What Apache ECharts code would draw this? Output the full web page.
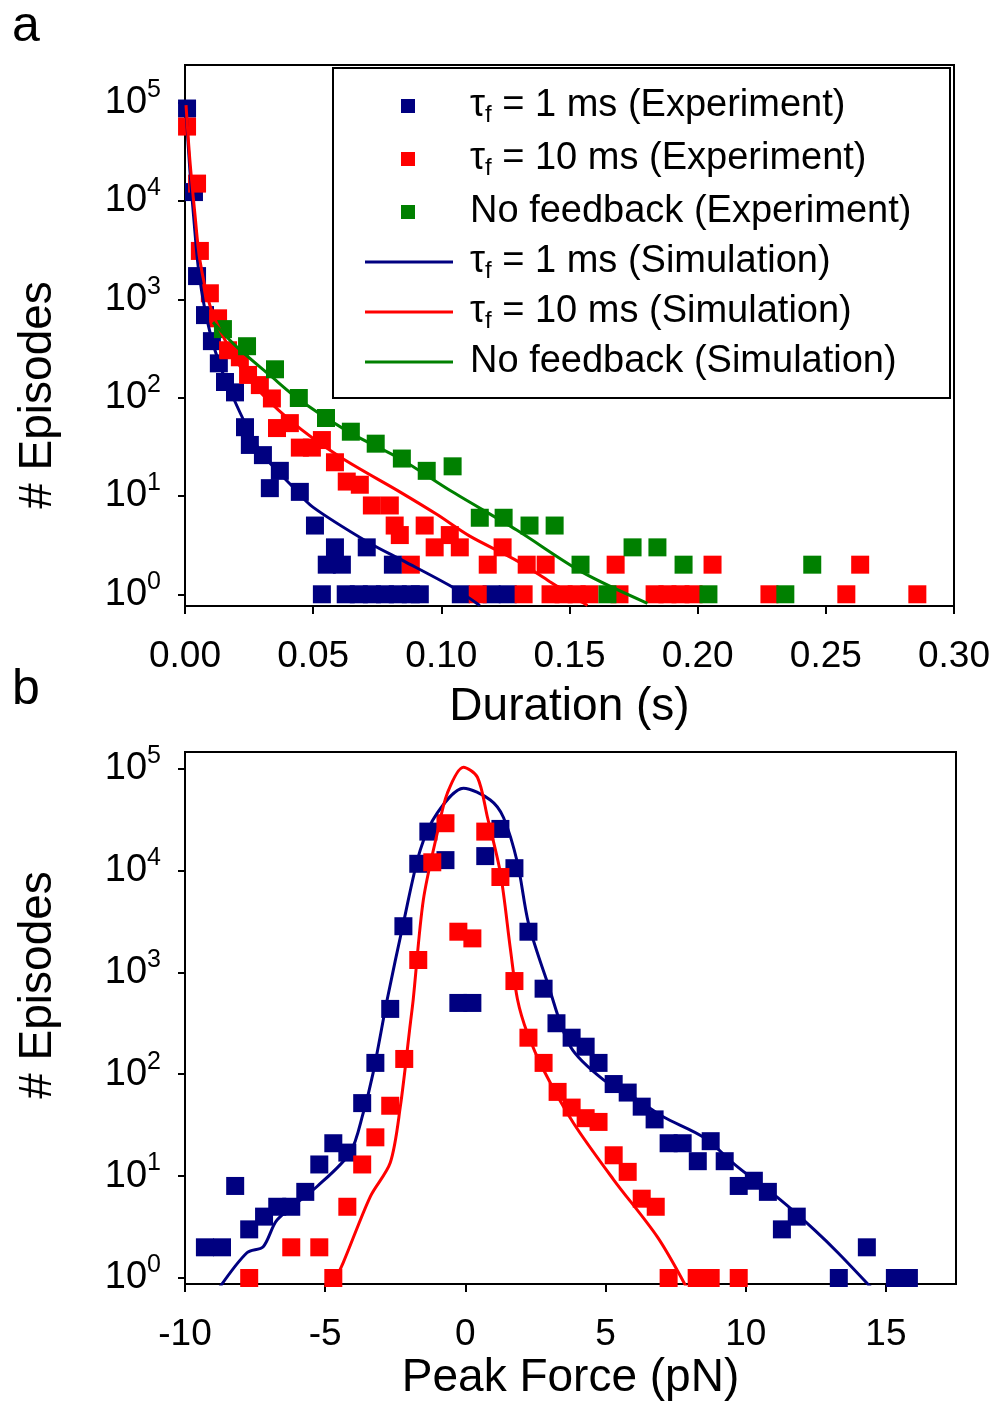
<!DOCTYPE html>
<html><head><meta charset="utf-8">
<script src="https://cdn.jsdelivr.net/npm/echarts@6/dist/echarts.min.js"></script>
<style>html,body{margin:0;padding:0;background:#fff}#c{width:995px;height:1404px}</style>
</head><body><div id="c"></div>
<script>
// ---------- Panel a : duration histograms ----------
const durBlueExp = [[0.0008,87000],[0.0035,12300],[0.0047,1720],[0.0078,690],[0.0105,375],[0.0132,223],[0.0156,144],[0.0195,113],[0.0234,50],[0.0253,33],[0.0304,26],[0.037,18],[0.0331,12],[0.0448,11],[0.0507,5],[0.0585,3],[0.0553,2],[0.0612,2],[0.0709,3],[0.0811,2],[0.0534,1],[0.0627,1],[0.0678,1],[0.0729,1],[0.078,1],[0.083,1],[0.0881,1],[0.0916,1],[0.1076,1],[0.1196,1],[0.1259,1]];
const durRedExp = [[0.0008,57000],[0.0047,15000],[0.0058,3100],[0.0097,1150],[0.0129,640],[0.0168,303],[0.0214,257],[0.0246,170],[0.0292,134],[0.0339,98],[0.0359,49],[0.0409,55],[0.0448,31],[0.0495,31],[0.0534,37],[0.0585,22],[0.0631,14],[0.0682,13],[0.0729,8],[0.0799,8],[0.0818,5],[0.0838,4],[0.0881,2],[0.0935,5],[0.0974,3],[0.1033,4],[0.1072,3],[0.1239,3],[0.1181,2],[0.1333,2],[0.1407,2],[0.1142,1],[0.1321,1],[0.1426,1],[0.1477,1],[0.1528,1],[0.1578,1],[0.168,2],[0.1695,1],[0.1832,1],[0.1882,1],[0.1933,1],[0.1984,1],[0.2058,2],[0.228,1],[0.258,1],[0.2634,2],[0.2857,1]];
const durGreenExp = [[0.0148,497],[0.0242,333],[0.0351,194],[0.0444,99],[0.055,62],[0.0647,45],[0.0744,34],[0.0846,24],[0.0943,18],[0.1044,20],[0.115,6],[0.1243,6],[0.1344,5],[0.1442,5],[0.1543,2],[0.1648,1],[0.1746,3],[0.1843,3],[0.1945,2],[0.2042,1],[0.2342,1],[0.2447,2]];
const durBlueSim = [[0.0004,84000],[0.0019,20600],[0.0035,6300],[0.0051,2200],[0.0078,780],[0.0117,303],[0.0175,119],[0.0292,29],[0.0421,12.3],[0.0499,7.7],[0.0721,3.3],[0.085,2.2],[0.1044,1.18],[0.115,0.77]];
const durRedSim = [[0.0004,94000],[0.0019,26000],[0.0039,7200],[0.0058,2500],[0.0097,870],[0.0156,385],[0.0253,150],[0.0409,59],[0.0604,25],[0.0838,11],[0.0982,6.5],[0.1111,3.9],[0.1294,2.2],[0.1422,1.35],[0.157,0.77]];
const durGreenSim = [[0.0109,585],[0.0203,326],[0.0331,169],[0.0448,94],[0.0643,44],[0.0838,24],[0.1033,11.4],[0.1294,4.5],[0.1551,1.67],[0.1804,0.81]];

// ---------- Panel b : peak force histograms ----------
const forceBlueExp = [[-9.29,2],[-8.68,2],[-8.21,8],[-7.71,3],[-7.18,4],[-6.71,5],[-6.21,5],[-5.71,7],[-5.21,13],[-4.71,21],[-4.21,17],[-3.68,52],[-3.21,129],[-2.68,437],[-2.21,2830],[-1.68,11600],[-1.32,24000],[-0.71,12600],[-0.25,500],[0.25,500],[0.71,13800],[1.25,25500],[1.75,10500],[2.25,2500],[2.79,690],[3.25,316],[3.79,228],[4.29,186],[4.75,129],[5.29,80],[5.79,66],[6.29,48],[6.75,36],[7.25,21],[7.75,21],[8.29,14],[8.75,22],[9.25,14],[9.75,8],[10.29,9],[10.79,7],[11.29,3],[11.82,4],[13.32,1],[14.32,2],[15.32,1],[15.82,1]];
const forceRedExp = [[-7.71,1],[-6.21,2],[-5.21,2],[-4.71,1],[-4.21,5],[-3.68,13],[-3.21,24],[-2.68,49],[-2.18,141],[-1.68,1320],[-1.18,12000],[-0.71,29000],[-0.25,2500],[0.25,2150],[0.71,24000],[1.25,8600],[1.75,820],[2.25,228],[2.79,129],[3.29,67],[3.79,47],[4.29,37],[4.75,34],[5.29,16],[5.79,11],[6.29,6],[6.79,5],[7.25,1],[8.25,1],[8.75,1],[9.75,1]];
const forceBlueSim = [[-8.82,0.77],[-7.79,1.77],[-7.21,2.03],[-6.71,3.73],[-5.29,7.9],[-4.11,17],[-3.64,42],[-3.29,103],[-2.79,537],[-2.21,3040],[-1.61,15800],[-1.0,36600],[-0.07,64000],[0.89,49000],[1.36,33000],[1.86,11800],[2.25,3040],[2.93,790],[3.75,186],[4.93,88],[6.14,56],[7.07,38],[8.5,24],[9.71,12.3],[11.25,5.8],[12.43,3],[13.29,1.77],[14.54,0.77]];
const forceRedSim = [[-4.82,0.77],[-4.36,1.41],[-3.39,6.3],[-2.68,13.5],[-2.32,48],[-1.96,318],[-1.86,540],[-1.5,5100],[-1.0,23400],[-0.64,57500],[-0.07,103000],[0.43,82000],[0.79,33000],[1.25,9400],[1.61,1660],[1.86,540],[2.21,253],[2.79,110],[3.86,33],[5.29,9.2],[6.86,2.5],[7.93,0.77]];

// ---------- ticks & labels ----------
const durTicks = [0, 0.05, 0.10, 0.15, 0.20, 0.25, 0.30];
const forceTicks = [-10, -5, 0, 5, 10, 15];
const countTicks = [1, 10, 100, 1000, 10000, 100000];
const expNames = ['τf = 1 ms (Experiment)', 'τf = 10 ms (Experiment)', 'No feedback (Experiment)'];
const simNames = ['τf = 1 ms (Simulation)', 'τf = 10 ms (Simulation)', 'No feedback (Simulation)'];

const FONT = "'Liberation Sans', Arial, sans-serif";
const BLUE = '#000080', RED = '#ff0000', GREEN = '#008000';

function yAxisCfg(gi, min, max) {
  return {
    type: 'log', logBase: 10, gridIndex: gi, min: min, max: max,
    axisLine: {show: true, onZero: false, lineStyle: {color: '#000', width: 2}},
    axisTick: {show: true, length: 7, lineStyle: {color: '#000', width: 2}, customValues: countTicks},
    minorTick: {show: false}, splitLine: {show: false},
    axisLabel: {
      customValues: countTicks, margin: 24, color: '#000', fontFamily: FONT, fontSize: 38, lineHeight: 50,
      formatter: v => {
        const e = Math.log10(v);
        if (Math.abs(e - Math.round(e)) > 1e-6) return '';
        return '10{sup|' + Math.round(e) + '}';
      },
      rich: {sup: {fontSize: 25, fontFamily: FONT, color: '#000', verticalAlign: 'top', lineHeight: 26}}
    }
  };
}
function xAxisCfg(gi, min, max, interval, ticks, fmt, name, gap) {
  return {
    type: 'value', gridIndex: gi, min: min, max: max, interval: interval,
    axisLine: {show: true, onZero: false, lineStyle: {color: '#000', width: 2}},
    axisTick: {show: true, length: 8, lineStyle: {color: '#000', width: 2}, customValues: ticks},
    splitLine: {show: false},
    axisLabel: {customValues: ticks, formatter: fmt, margin: 32, color: '#000', fontFamily: FONT, fontSize: 37},
    name: name, nameLocation: 'middle', nameGap: gap,
    nameTextStyle: {color: '#000', fontFamily: FONT, fontSize: 46}
  };
}
function sc(name, data, color, xi) {
  return {type: 'scatter', name: name, xAxisIndex: xi, yAxisIndex: xi, data: data, symbol: 'rect', symbolSize: 18, itemStyle: {color: color, opacity: 1}, z: 2};
}
function ln(name, data, color, xi) {
  return {type: 'line', name: name, xAxisIndex: xi, yAxisIndex: xi, data: data, symbol: 'none', smooth: 0.3, lineStyle: {color: color, width: 3}, itemStyle: {color: color}, z: 3};
}
const legendText = {
  color: '#000', fontFamily: FONT, fontSize: 38, lineHeight: 42,
  rich: {sub: {fontSize: 24, fontFamily: FONT, color: '#000', verticalAlign: 'bottom', lineHeight: 24},
         sp1: {width: 50}, sp2: {width: 12}}
};
function legFmt(sp) {
  return n => '{' + sp + '| }' + n.replace('τf', 'τ{sub|f}');
}

const chart = echarts.init(document.getElementById('c'), null, {renderer: 'canvas'});
chart.setOption({
  animation: false,
  backgroundColor: '#fff',
  textStyle: {fontFamily: FONT},
  grid: [
    {left: 185, top: 65, width: 769, height: 541, show: true, borderColor: '#000', borderWidth: 2, backgroundColor: 'transparent'},
    {left: 185, top: 752, width: 771, height: 532, show: true, borderColor: '#000', borderWidth: 2, backgroundColor: 'transparent'}
  ],
  xAxis: [
    xAxisCfg(0, 0, 0.30, 0.05, durTicks, v => v.toFixed(2), 'Duration (s)', 78),
    xAxisCfg(1, -10, 17.5, 5, forceTicks, v => String(v), 'Peak Force (pN)', 71)
  ],
  yAxis: [yAxisCfg(0, 0.76, 241000), yAxisCfg(1, 0.873, 145000)],
  legend: [
    {data: expNames.map(n => ({name: n, icon: 'rect'})), orient: 'vertical', left: 401, top: 85, padding: 0,
     itemWidth: 14, itemHeight: 14, itemGap: 11, textStyle: legendText, formatter: legFmt('sp1'), selectedMode: false},
    {data: simNames.map(n => ({name: n, icon: 'rect'})), orient: 'vertical', left: 365, top: 241, padding: 0,
     itemWidth: 88, itemHeight: 3, itemGap: 8, textStyle: legendText, formatter: legFmt('sp2'), selectedMode: false}
  ],
  graphic: [
    {type: 'rect', shape: {x: 333, y: 68, width: 617, height: 330}, style: {fill: '#fff', stroke: '#000', lineWidth: 2}, z: 3},
    {type: 'text', x: 12, y: 27, style: {text: 'a', fontSize: 50, fontFamily: FONT, fill: '#000', verticalAlign: 'middle'}},
    {type: 'text', x: 12, y: 690, style: {text: 'b', fontSize: 50, fontFamily: FONT, fill: '#000', verticalAlign: 'middle'}},
    {type: 'text', x: 38, y: 395, rotation: Math.PI / 2, style: {text: '# Episodes', fontSize: 46, fontFamily: FONT, fill: '#000', align: 'center', verticalAlign: 'middle'}},
    {type: 'text', x: 38, y: 985, rotation: Math.PI / 2, style: {text: '# Episodes', fontSize: 46, fontFamily: FONT, fill: '#000', align: 'center', verticalAlign: 'middle'}}
  ],
  series: [
    sc(expNames[0], durBlueExp, BLUE, 0),
    sc(expNames[1], durRedExp, RED, 0),
    sc(expNames[2], durGreenExp, GREEN, 0),
    ln(simNames[0], durBlueSim, BLUE, 0),
    ln(simNames[1], durRedSim, RED, 0),
    ln(simNames[2], durGreenSim, GREEN, 0),
    sc('Force τf = 1 ms (Experiment)', forceBlueExp, BLUE, 1),
    sc('Force τf = 10 ms (Experiment)', forceRedExp, RED, 1),
    ln('Force τf = 1 ms (Simulation)', forceBlueSim, BLUE, 1),
    ln('Force τf = 10 ms (Simulation)', forceRedSim, RED, 1)
  ]
});
</script></body></html>
